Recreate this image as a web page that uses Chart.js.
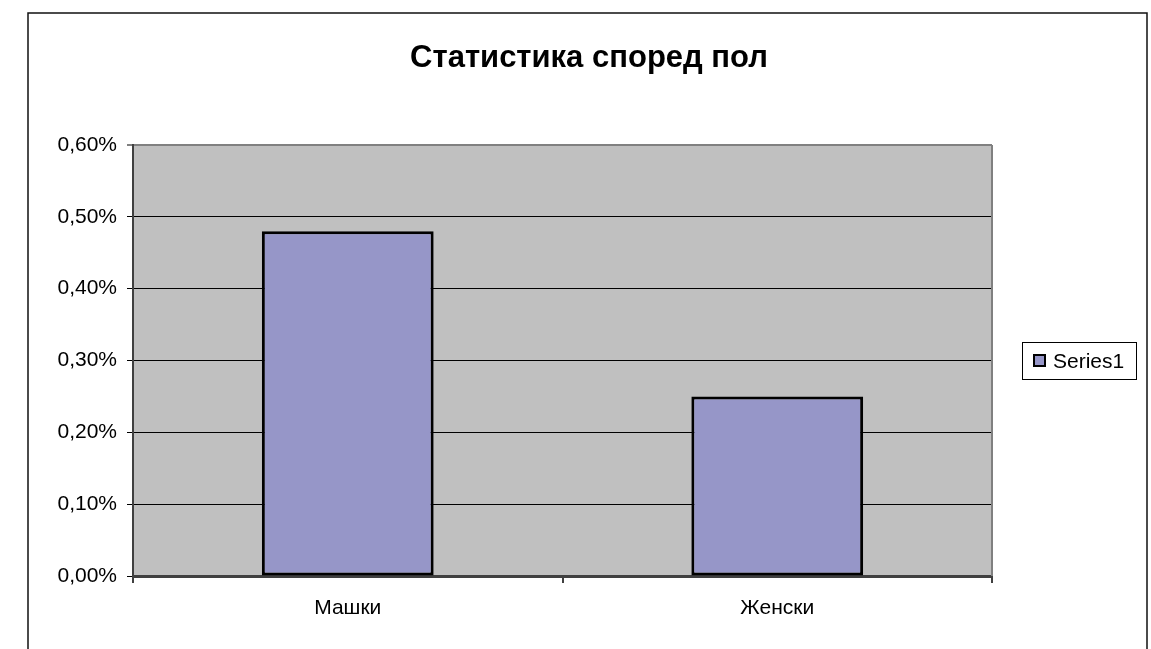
<!DOCTYPE html>
<html>
<head>
<meta charset="utf-8">
<script src="https://cdn.jsdelivr.net/npm/chart.js@4.4.0/dist/chart.umd.min.js"></script>
<style>
  html, body { margin: 0; padding: 0; background: #fff; }
  #wrap { width: 1151px; height: 649px; position: relative; }
</style>
</head>
<body>
<div id="wrap"><canvas id="myChart" width="1151" height="649"></canvas></div>
<script>
const categories = ["Машки", "Женски"];
const seriesName = "Series1";
const seriesValues = [0.48, 0.25]; // percent
const yTicks = [0, 0.1, 0.2, 0.3, 0.4, 0.5, 0.6];
const chartTitle = "Статистика според пол";

const FONT = "'Liberation Sans', Arial, sans-serif";
const barColor = "#9696C8";

// gray plot background, plot border, outer border, title and legend
const backdrop = {
  id: "backdrop",
  beforeDraw(chart) {
    const { ctx, chartArea: a } = chart;
    ctx.save();
    ctx.fillStyle = "#C0C0C0";
    ctx.fillRect(a.left, a.top, a.right - a.left, a.bottom - a.top);
    ctx.restore();
  },
  afterDraw(chart) {
    const { ctx, chartArea: a } = chart;
    ctx.save();
    // right side of plot
    ctx.strokeStyle = "#808080";
    ctx.lineWidth = 2;
    ctx.beginPath();
    ctx.moveTo(a.right, a.top);
    ctx.lineTo(a.right, a.bottom);
    ctx.stroke();
    // outer border
    ctx.strokeStyle = "#111";
    ctx.lineWidth = 1.5;
    ctx.beginPath();
    ctx.moveTo(28, 649);
    ctx.lineTo(28, 13);
    ctx.lineTo(1147, 13);
    ctx.lineTo(1147, 649);
    ctx.stroke();

    // title
    ctx.fillStyle = "#000";
    ctx.font = "bold 31px " + FONT;
    ctx.textAlign = "center";
    ctx.textBaseline = "alphabetic";
    ctx.fillText(chartTitle, 589, 67);

    // legend
    const ds = chart.data.datasets[0];
    ctx.textAlign = "left";
    ctx.strokeStyle = "#000";
    ctx.lineWidth = 1;
    ctx.strokeRect(1022.5, 342.5, 114, 37);
    ctx.fillStyle = ds.backgroundColor;
    ctx.fillRect(1034, 355, 11, 11);
    ctx.lineWidth = 2;
    ctx.strokeRect(1034, 355, 11, 11);
    ctx.fillStyle = "#000";
    ctx.font = "21px " + FONT;
    ctx.textBaseline = "middle";
    ctx.fillText(ds.label, 1053, 362);
    ctx.restore();
  }
};

new Chart(document.getElementById("myChart"), {
  type: "bar",
  data: {
    labels: categories,
    datasets: [
      {
        label: seriesName,
        data: seriesValues,
        backgroundColor: barColor,
        borderColor: "#000",
        borderWidth: 3,
        borderSkipped: false,
        barPercentage: 0.4,
        categoryPercentage: 1
      }
    ]
  },
  plugins: [backdrop],
  options: {
    responsive: false,
    animation: false,
    layout: { padding: { top: 145, left: 0, right: 159, bottom: 0 } },
    plugins: {
      legend: { display: false },
      tooltip: { enabled: false },
      title: { display: false }
    },
    scales: {
      x: {
        afterFit: (s) => { s.height = 73; },
        grid: {
          offset: true,
          drawOnChartArea: false,
          drawTicks: true,
          tickLength: 7,
          color: "#404040",
          lineWidth: 2
        },
        border: { display: true, color: "#404040", width: 3 },
        ticks: {
          color: "#000",
          padding: 13,
          font: { family: FONT, size: 21 }
        }
      },
      y: {
        min: 0,
        max: 0.6,
        afterFit: (s) => { s.width = 133; },
        afterBuildTicks: (s) => { s.ticks = yTicks.map((v) => ({ value: v })); },
        grid: {
          drawTicks: true,
          tickLength: 6,
          color: (c) => (c.tick && c.tick.value >= 0.6 ? "#808080" : "#000"),
          lineWidth: (c) => (c.tick && c.tick.value >= 0.6 ? 2 : 1)
        },
        border: { display: true, color: "#404040", width: 2 },
        ticks: {
          color: "#000",
          padding: 10,
          font: { family: FONT, size: 21 },
          callback: (v) => v.toFixed(2).replace(".", ",") + "%"
        }
      }
    }
  }
});
</script>
</body>
</html>
